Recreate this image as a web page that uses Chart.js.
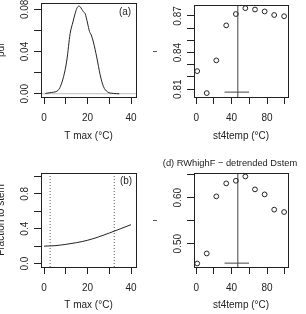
<!DOCTYPE html>
<html>
<head>
<meta charset="utf-8">
<script src="https://cdn.jsdelivr.net/npm/chart.js@4.4.1/dist/chart.umd.min.js"></script>
<style>
  html, body { margin: 0; padding: 0; background: #fff; }
  #wrap { position: relative; width: 306px; height: 314px; overflow: hidden; }
  canvas { position: absolute; }
</style>
</head>
<body>
<div id="wrap">
  <canvas id="pa" width="153" height="157" style="left:0;top:0"></canvas>
  <canvas id="pc" width="153" height="157" style="left:153px;top:0"></canvas>
  <canvas id="pb" width="153" height="157" style="left:0;top:157px"></canvas>
  <canvas id="pd" width="153" height="157" style="left:153px;top:157px"></canvas>
</div>
<script>
// ── (a) density of T max ──
var tmaxX   = [0.6, 3.5, 6.7, 9.0, 10.5, 12.0, 13.3, 14.3, 15.1, 16.0, 16.6, 17.4, 18.1, 18.9, 20.0, 20.9, 21.7, 22.7, 24.3, 25.8, 27.3, 29.1, 31.9, 34.6];
var tmaxPdf = [0.0003, 0.0012, 0.0038, 0.0163, 0.032, 0.057, 0.068, 0.076, 0.081, 0.083, 0.0825, 0.080, 0.0777, 0.076, 0.067, 0.059, 0.0557, 0.049, 0.034, 0.018, 0.0069, 0.0019, 0.0003, 0];

// ── (b) fraction to stem ──
var fracX = [0, 5, 10, 15, 20, 25, 30, 35, 40];
var fracY = [0.200, 0.205, 0.220, 0.240, 0.267, 0.305, 0.350, 0.398, 0.446];
var fracLimits = [2.8, 32.3];   // dotted verticals

// ── right panels: r vs st4temp ──
var st4temp    = [1.1, 11.9, 22.7, 33.9, 44.8, 55.5, 66.4, 77.3, 88.1, 99.3];
var rDstem     = [0.8248, 0.8068, 0.8336, 0.8623, 0.8716, 0.8764, 0.8753, 0.8737, 0.8708, 0.8698];
var rDetrended = [0.4571, 0.4788, 0.6028, 0.6310, 0.6368, 0.6461, 0.6180, 0.6071, 0.5740, 0.5688];
var optTemp = 47;
var optCI   = [32, 59.7];
var ciYTop = 0.8076, ciYBot = 0.4578;

// ── ticks ──
var tmaxTicks = [0, 10, 20, 30, 40],             tmaxLabels = ['0', '', '20', '', '40'];
var stTicks   = [0, 20, 40, 60, 80, 100],        stLabels   = ['0', '', '40', '', '80', ''];
var pdfTicks  = [0, 0.02, 0.04, 0.06, 0.08],     pdfLabels  = ['0.00', '', '0.04', '', '0.08'];
var rTopTicks = [0.81, 0.82, 0.83, 0.84, 0.85, 0.86, 0.87], rTopLabels = ['0.81', '', '', '0.84', '', '', '0.87'];
var fracTicks = [0, 0.2, 0.4, 0.6, 0.8, 1.0],    fracLabels = ['0.0', '', '0.4', '', '0.8', ''];
var rBotTicks = [0.50, 0.55, 0.60, 0.65],        rBotLabels = ['0.50', '', '0.60', ''];

var FONT = '"Liberation Sans", Arial, sans-serif';
var INK = '#222';
var W = 153, H = 157;

var pts = function (xs, ys) { return xs.map(function (x, i) { return { x: x, y: ys[i] }; }); };

// box round the plot + free text (panel tags, main title)
var boxPlugin = {
  id: 'box',
  afterDraw: function (chart, args, opts) {
    var a = chart.chartArea, ctx = chart.ctx;
    ctx.save();
    ctx.strokeStyle = INK; ctx.lineWidth = 1;
    ctx.strokeRect(Math.round(a.left) + 0.5, Math.round(a.top) + 0.5,
      Math.round(a.right) - Math.round(a.left), Math.round(a.bottom) - Math.round(a.top));
    ctx.fillStyle = INK; ctx.textBaseline = 'middle'; ctx.textAlign = 'center';
    (opts.notes || []).forEach(function (n) {
      ctx.font = n.size + 'px ' + FONT;
      ctx.fillText(n.text, n.x, n.y);
    });
    ctx.restore();
  }
};

function axis(dir, a, size) {
  var isX = dir === 'x';
  return {
    type: 'linear', position: isX ? 'bottom' : 'left',
    min: a.min, max: a.max,
    afterBuildTicks: function (s) { s.ticks = a.ticks.map(function (v) { return { value: v }; }); },
    afterFit: function (s) {
      if (isX) s.height = size; else s.width = size;
      s.paddingTop = s.paddingBottom = s.paddingLeft = s.paddingRight = 0;
    },
    border: { display: false },
    grid: { drawOnChartArea: false, drawTicks: true, tickLength: 7, color: INK, lineWidth: 1 },
    ticks: {
      autoSkip: false, color: INK, font: { family: FONT, size: 10 },
      padding: isX ? 8 : a.pad,
      minRotation: isX ? 0 : 90, maxRotation: isX ? 0 : 90,
      crossAlign: isX ? 'near' : 'center',
      callback: function (v, i) { return a.labels[i]; }
    },
    title: {
      display: true, text: a.title, color: INK, font: { family: FONT, size: 10 },
      padding: isX ? { top: 0, bottom: a.tpad } : { top: -5, bottom: 0 }
    }
  };
}

function panel(id, box, x, y, datasets, notes) {
  return new Chart(document.getElementById(id), {
    type: 'scatter',
    data: { datasets: datasets },
    options: {
      responsive: false, animation: false, devicePixelRatio: 1, events: [],
      layout: { padding: { left: 0, top: box[1], right: W - box[2], bottom: 0 } },
      plugins: { legend: { display: false }, tooltip: { enabled: false }, box: { notes: notes } },
      scales: { x: axis('x', x, H - box[3]), y: axis('y', y, box[0]) }
    },
    plugins: [boxPlugin]
  });
}

function curve(data, extra) {
  var d = { data: data, showLine: true, borderColor: INK, borderWidth: 1, pointRadius: 0, fill: false };
  for (var k in extra) d[k] = extra[k];
  return d;
}
function circles(data) {
  return { data: data, showLine: false, pointRadius: 2.4, pointBorderWidth: 1,
    pointBorderColor: INK, pointBackgroundColor: 'rgba(0,0,0,0)' };
}

var axA = { min: -1.4, max: 42.3, ticks: tmaxTicks, labels: tmaxLabels, title: 'T max (°C)', tpad: 15 };
var axB = { min: -1.4, max: 42.3, ticks: tmaxTicks, labels: tmaxLabels, title: 'T max (°C)', tpad: 3 };
var axC = { min: -2.5, max: 103.7, ticks: stTicks, labels: stLabels, title: 'st4temp (°C)', tpad: 15 };
var axD = { min: -2.5, max: 103.7, ticks: stTicks, labels: stLabels, title: 'st4temp (°C)', tpad: 3 };

var yA = { min: -0.0031, max: 0.0860, ticks: pdfTicks, labels: pdfLabels, title: 'pdf', pad: -1.2 };
var yC = { min: 0.8036, max: 0.8790, ticks: rTopTicks, labels: rTopLabels, title: 'r', pad: -1.2 };
var yB = { min: -0.04, max: 1.04, ticks: fracTicks, labels: fracLabels, title: 'Fraction to stem', pad: 1.5 };
var yD = { min: 0.4494, max: 0.6536, ticks: rBotTicks, labels: rBotLabels, title: 'r', pad: -1.2 };

// (a)
panel('pa', [41, 3, 136, 97], axA, yA, [
  curve(pts(tmaxX, tmaxPdf), { cubicInterpolationMode: 'monotone' }),
  curve(pts([axA.min, axA.max], [0, 0]), { borderColor: '#bebebe' })
], [{ text: '(a)', x: 125, y: 12.7, size: 10 }]);

// top right
panel('pc', [41, 3, 135, 97], axC, yC, [
  circles(pts(st4temp, rDstem)),
  curve(pts([optTemp, optTemp], [yC.min, yC.max]), { borderColor: '#444' }),
  curve(pts(optCI, [ciYTop, ciYTop]), { borderColor: '#444' })
], []);

// (b)
panel('pb', [41, 16, 136, 110], axB, yB, [
  curve(pts(fracX, fracY), { cubicInterpolationMode: 'monotone' }),
  curve(pts([fracLimits[0], fracLimits[0]], [yB.min, yB.max]), { borderColor: '#555', borderDash: [1, 2] }),
  curve(pts([fracLimits[1], fracLimits[1]], [yB.min, yB.max]), { borderColor: '#555', borderDash: [1, 2] })
], [{ text: '(b)', x: 126, y: 24, size: 10 }]);

// (d)
panel('pd', [41, 16, 135, 110], axD, yD, [
  circles(pts(st4temp, rDetrended)),
  curve(pts([optTemp, optTemp], [yD.min, yD.max]), { borderColor: '#444' }),
  curve(pts(optCI, [ciYBot, ciYBot]), { borderColor: '#444' })
], [{ text: '(d) RWhighF − detrended Dstem', x: 77, y: 6.3, size: 9.3 }]);
</script>
</body>
</html>
